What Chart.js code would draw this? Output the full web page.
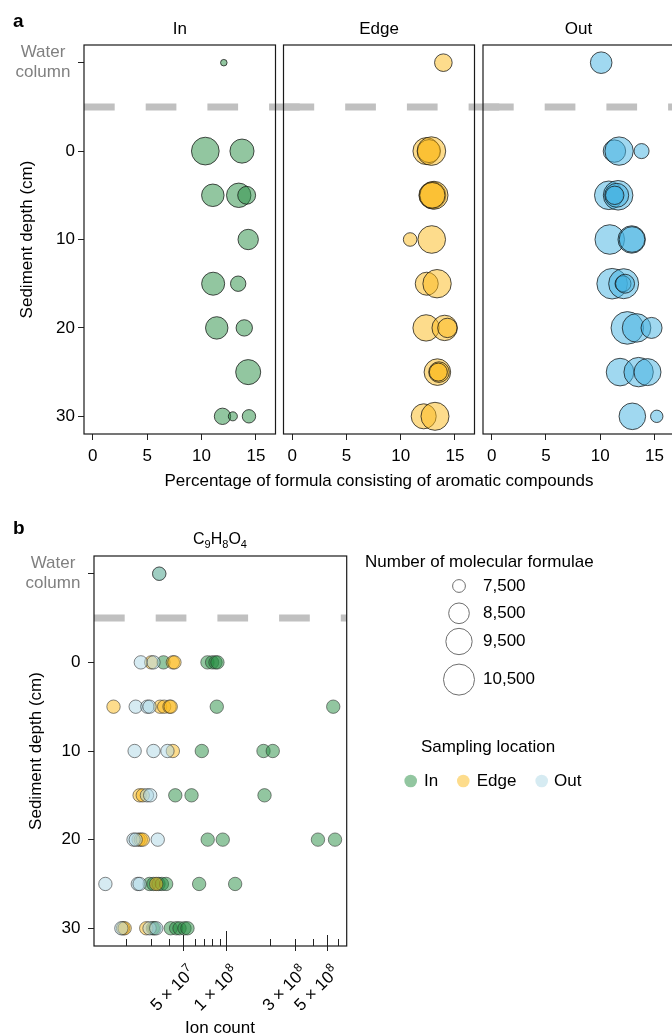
<!DOCTYPE html>
<html>
<head>
<meta charset="utf-8">
<script src="https://cdn.jsdelivr.net/npm/chart.js@4.4.1/dist/chart.umd.min.js"></script>
<style>
  html, body { margin: 0; padding: 0; background: #fff; }
  #fig { position: relative; width: 672px; height: 1034px; overflow: hidden; background: #fff; }
  #fig canvas { position: absolute; left: 0; top: 0; }
</style>
</head>
<body>
<div id="fig">
  <canvas id="cIn" width="720" height="1034"></canvas>
  <canvas id="cEdge" width="720" height="1034"></canvas>
  <canvas id="cOut" width="720" height="1034"></canvas>
  <canvas id="cIon" width="720" height="1034"></canvas>
</div>
<script>
// ---------- data ----------
const WATER = -10;     // row on the depth axis used for the water-column samples
const DIVIDER = -5;    // dashed separator between water column and sediment
const depthTicks = [-10, 0, 10, 20, 30];
const pctTicks = [0, 5, 10, 15];

// (a) aromatic share (%) and number of molecular formulae per sample
const inDepth     = [WATER, 0, 0, 5, 5, 5, 10, 15, 15, 20, 20, 25, 30, 30, 30];
const inAromatic  = [12.05, 10.35, 13.72, 11.04, 13.42, 14.15, 14.29, 11.07, 13.37, 11.40, 13.93, 14.29, 11.93, 12.88, 14.36];
const inFormulae  = [7020, 9780, 9080, 8800, 9140, 8100, 8460, 8890, 7780, 8790, 7900, 9250, 7900, 7180, 7560];

const edgeDepth    = [WATER, 0, 0, 0, 5, 5, 5, 10, 10, 15, 15, 20, 20, 20, 25, 25, 25, 30, 30];
const edgeAromatic = [13.93, 12.37, 12.61, 12.83, 12.92, 13.07, 12.90, 10.87, 12.86, 12.40, 13.35, 12.34, 14.05, 14.30, 13.38, 13.53, 13.47, 12.12, 13.16];
const edgeFormulae = [8060, 9630, 8890, 9960, 9630, 9840, 9360, 7580, 9760, 8890, 9920, 9510, 9320, 8310, 9550, 8490, 8110, 9250, 9840];

const outDepth     = [WATER, 0, 0, 0, 5, 5, 5, 5, 10, 10, 10, 15, 15, 15, 15, 20, 20, 20, 25, 25, 25, 30, 30];
const outAromatic  = [10.09, 11.31, 11.74, 13.81, 10.79, 11.65, 11.52, 11.34, 10.88, 12.90, 12.93, 11.10, 12.16, 12.10, 12.29, 12.50, 13.35, 14.73, 11.83, 13.54, 14.36, 12.96, 15.21];
const outFormulae  = [8650, 8790, 9920, 7740, 9960, 10180, 9060, 8170, 10180, 9720, 9360, 10400, 10270, 7850, 8250, 10870, 9960, 8560, 9760, 10140, 9630, 9550, 7460];

// (b) ion counts of C9H8O4
const ionInDepth = [WATER, 0, 0, 0, 0, 0, 5, 5, 10, 10, 10, 15, 15, 15, 20, 20, 20, 20, 25, 25, 25, 25, 25, 25, 25, 30, 30, 30, 30, 30, 30, 30];
const ionIn      = [3.41e7, 3.65e7, 7.38e7, 7.95e7, 8.39e7, 8.66e7, 8.57e7, 5.53e8, 6.74e7, 1.81e8, 2.10e8, 4.41e7, 5.72e7, 1.84e8,
                    7.41e7, 9.43e7, 4.33e8, 5.69e8, 2.92e7, 3.11e7, 3.37e7, 3.56e7, 3.81e7, 6.46e7, 1.15e8,
                    3.08e7, 3.16e7, 4.10e7, 4.47e7, 4.72e7, 5.11e7, 5.36e7];
const ionEdgeDepth = [0, 0, 0, 5, 5, 5, 5, 5, 10, 15, 15, 20, 20, 20, 25, 30, 30, 30];
const ionEdge      = [3.00e7, 4.24e7, 4.35e7, 1.64e7, 3.46e7, 3.69e7, 4.02e7, 4.10e7, 4.24e7, 2.49e7, 2.62e7,
                      2.45e7, 2.54e7, 2.62e7, 3.25e7, 1.91e7, 1.96e7, 2.77e7];
const ionOutDepth = [WATER, 0, 0, 5, 5, 5, 10, 10, 10, 15, 15, 20, 20, 20, 25, 25, 25, 30, 30, 30];
const ionOut      = [3.41e7, 2.54e7, 3.11e7, 2.34e7, 2.82e7, 2.92e7, 2.30e7, 3.11e7, 3.89e7, 2.80e7, 2.95e7,
                     2.26e7, 2.34e7, 3.33e7, 1.44e7, 2.42e7, 2.49e7, 1.86e7, 2.92e7, 3.25e7];

const ionTicks = [2e7, 3e7, 4e7, 5e7, 6e7, 7e7, 8e7, 9e7, 1e8, 2e8, 3e8, 4e8, 5e8, 6e8];
const ionLabelTicks = [5e7, 1e8, 3e8, 5e8];
const ionLabelMantissa = ['5', '1', '3', '5'];
const ionLabelExponent = ['7', '8', '8', '8'];

const legendFormulae = [7500, 8500, 9500, 10500];
const legendFormulaeLabels = ['7,500', '8,500', '9,500', '10,500'];
const locations = ['In', 'Edge', 'Out'];

// ---------- styling ----------
const FONT = "'Liberation Sans', Arial, Helvetica, sans-serif";
const CW = 720, CH = 1034;
const colIn = 'rgba(37,141,65,0.5)';
const colEdge = 'rgba(251,185,25,0.5)';
const colOut = 'rgba(65,177,225,0.5)';
const colOutIon = 'rgba(173,216,230,0.5)';
const edgeLine = 'rgba(20,20,20,0.75)';

Chart.defaults.font.family = FONT;
Chart.defaults.font.size = 17;
Chart.defaults.color = '#000';

// circle radius (px) for a number of molecular formulae: area grows linearly with the count
function sizeFor(n) {
  return Math.sqrt(Math.max(9, 152 + 0.0696 * (n - 9000))) - 0.5;
}

function txt(ctx, s, x, y, o = {}) {
  ctx.save();
  ctx.font = `${o.weight || 'normal'} ${o.size || 17}px ${FONT}`;
  ctx.fillStyle = o.color || '#000';
  ctx.textAlign = o.align || 'center';
  ctx.textBaseline = o.baseline || 'middle';
  if (o.rotate) {
    ctx.translate(x, y); ctx.rotate(o.rotate); ctx.fillText(s, 0, 0);
  } else {
    ctx.fillText(s, x, y);
  }
  ctx.restore();
}

function depthAxis(show, width, pad) {
  return {
    type: 'linear', reverse: true, min: -12, max: 32, display: show,
    afterBuildTicks(s) { s.ticks = depthTicks.map(v => ({ value: v })); },
    afterFit(s) { if (show) s.width = width; },
    ticks: { padding: pad, autoSkip: false, color: '#000', font: { size: 17 },
             callback: v => (v === WATER ? '' : String(v)) },
    grid: { drawOnChartArea: false, tickLength: 6, color: '#222', lineWidth: 1 },
    border: { display: false }
  };
}

function waterLabel(chart) {
  const { ctx, chartArea: a, scales } = chart;
  const yw = scales.y.getPixelForValue(WATER);
  txt(ctx, 'Water', a.left - 41, yw - 10.4, { color: '#808080' });
  txt(ctx, 'column', a.left - 41, yw + 10, { color: '#808080' });
}

// frame, dashed separator and any extra annotations
function decor(cfg) {
  return {
    id: 'decor',
    beforeDatasetsDraw(chart) {
      const { ctx, chartArea: a, scales } = chart;
      const yy = scales.y.getPixelForValue(DIVIDER);
      ctx.save();
      ctx.strokeStyle = '#c0c0c0';
      ctx.lineWidth = 7;
      ctx.setLineDash([30.7, 31]);
      ctx.beginPath();
      ctx.moveTo(a.left, yy);
      ctx.lineTo(a.right + cfg.dashExtend, yy);
      ctx.stroke();
      ctx.restore();
    },
    afterDatasetsDraw(chart) {
      const { ctx, chartArea: a } = chart;
      ctx.save();
      ctx.strokeStyle = '#1a1a1a';
      ctx.lineWidth = 1.2;
      ctx.strokeRect(a.left, a.top, a.right - a.left, a.bottom - a.top);
      ctx.restore();
    },
    afterDraw(chart) { if (cfg.extra) cfg.extra(chart); }
  };
}

function baseOptions(padding) {
  return {
    responsive: false, animation: false, devicePixelRatio: 1, events: [],
    layout: { padding },
    plugins: { legend: { display: false }, tooltip: { enabled: false } }
  };
}

// ---------- panel a ----------
const A_TOP = 45, A_BOTTOM = 434, A_XAXIS = 40;
const panelsA = [
  { id: 'cIn', name: 'In', depth: inDepth, pct: inAromatic, n: inFormulae, color: colIn, left: 84, right: 275.5, showY: true },
  { id: 'cEdge', name: 'Edge', depth: edgeDepth, pct: edgeAromatic, n: edgeFormulae, color: colEdge, left: 283.5, right: 474.5, showY: false },
  { id: 'cOut', name: 'Out', depth: outDepth, pct: outAromatic, n: outFormulae, color: colOut, left: 483, right: 674, showY: false }
];

panelsA.forEach(p => {
  const yWidth = 84;
  const opts = baseOptions({
    left: p.showY ? p.left - yWidth : p.left,
    right: CW - p.right,
    top: A_TOP,
    bottom: CH - A_BOTTOM - A_XAXIS
  });
  opts.scales = {
    x: {
      type: 'linear', min: -0.8, max: 16.8,
      afterBuildTicks(s) { s.ticks = pctTicks.map(v => ({ value: v })); },
      afterFit(s) { s.height = A_XAXIS; },
      ticks: { padding: 6, autoSkip: false, maxRotation: 0, minRotation: 0, font: { size: 17 }, color: '#000' },
      grid: { drawOnChartArea: false, tickLength: 6, color: '#222', lineWidth: 1 },
      border: { display: false }
    },
    y: depthAxis(p.showY, yWidth, 3)
  };
  new Chart(document.getElementById(p.id), {
    type: 'bubble',
    data: {
      datasets: [{
        label: p.name,
        data: p.depth.map((d, i) => ({ x: p.pct[i], y: d, r: sizeFor(p.n[i]) })),
        backgroundColor: p.color,
        borderColor: edgeLine,
        borderWidth: 1
      }]
    },
    options: opts,
    plugins: [decor({
      dashExtend: 30,
      extra(chart) {
        const { ctx, chartArea: a } = chart;
        txt(ctx, p.name, (a.left + a.right) / 2, 34, { baseline: 'alphabetic' });
        if (p.showY) {
          txt(ctx, 'a', 13, 27, { weight: 'bold', size: 19, align: 'left', baseline: 'alphabetic' });
          txt(ctx, 'Sediment depth (cm)', 27, (a.top + a.bottom) / 2, { rotate: -Math.PI / 2 });
          txt(ctx, 'Percentage of formula consisting of aromatic compounds', (84 + 674) / 2, 481);
          waterLabel(chart);
        }
      }
    })]
  });
});

// ---------- panel b ----------
const B_LEFT = 94, B_RIGHT = 346.7, B_TOP = 556, B_BOTTOM = 946;

function ionPoints(depths, counts) {
  return depths.map((d, i) => ({ x: counts[i], y: d }));
}

function ionExtras(chart) {
  const { ctx, chartArea: a, scales } = chart;
  const xs = scales.x;

  // log axis tick marks (inward), labelled ticks also reach outward
  ctx.save();
  ctx.strokeStyle = '#222';
  ctx.lineWidth = 1;
  ionTicks.forEach(v => {
    const x = Math.round(xs.getPixelForValue(v)) + 0.5;
    const lead = Math.log10(v) % 1;
    let len = 7;
    if (Math.abs(lead) < 1e-6) len = 15;
    else if (Math.abs(lead - Math.log10(5)) < 1e-6) len = 11;
    const out = ionLabelTicks.includes(v) ? 5 : 0;
    ctx.beginPath();
    ctx.moveTo(x, a.bottom - len);
    ctx.lineTo(x, a.bottom + out);
    ctx.stroke();
  });
  ctx.restore();

  // rotated tick labels with superscript exponents
  ionLabelTicks.forEach((v, i) => {
    const x = xs.getPixelForValue(v);
    ctx.save();
    ctx.translate(x + 13, a.bottom + 27);
    ctx.rotate(-Math.PI / 4);
    ctx.fillStyle = '#000';
    ctx.textAlign = 'right';
    ctx.textBaseline = 'alphabetic';
    ctx.font = `12px ${FONT}`;
    const ew = ctx.measureText(ionLabelExponent[i]).width;
    ctx.fillText(ionLabelExponent[i], 0, -7);
    ctx.font = `17px ${FONT}`;
    ctx.fillText(ionLabelMantissa[i] + ' \u00d7 10', -ew - 0.5, 0);
    ctx.restore();
  });

  txt(ctx, 'Ion count', 220, 1033, { baseline: 'alphabetic' });
  txt(ctx, 'b', 13, 534, { weight: 'bold', size: 19, align: 'left', baseline: 'alphabetic' });
  txt(ctx, 'Sediment depth (cm)', 36, (a.top + a.bottom) / 2, { rotate: -Math.PI / 2 });
  waterLabel(chart);

  // C9H8O4 with subscripts
  const parts = [['C', 0], ['9', 1], ['H', 0], ['8', 1], ['O', 0], ['4', 1]];
  ctx.save();
  let total = 0;
  parts.forEach(([s, sub]) => { ctx.font = `${sub ? 11 : 16}px ${FONT}`; total += ctx.measureText(s).width; });
  let cx = 220 - total / 2;
  ctx.fillStyle = '#000';
  ctx.textAlign = 'left';
  ctx.textBaseline = 'alphabetic';
  parts.forEach(([s, sub]) => {
    ctx.font = `${sub ? 11 : 16}px ${FONT}`;
    ctx.fillText(s, cx, sub ? 548 : 544);
    cx += ctx.measureText(s).width;
  });
  ctx.restore();

  // size legend
  txt(ctx, 'Number of molecular formulae', 365, 562, { align: 'left' });
  const legY = [586, 613.3, 641.5, 679.6];
  legendFormulae.forEach((n, i) => {
    ctx.save();
    ctx.strokeStyle = '#6e6e6e';
    ctx.lineWidth = 1;
    ctx.beginPath();
    ctx.arc(459, legY[i], sizeFor(n), 0, Math.PI * 2);
    ctx.stroke();
    ctx.restore();
    txt(ctx, legendFormulaeLabels[i], 483, legY[i], { align: 'left' });
  });

  // colour legend
  txt(ctx, 'Sampling location', 488, 747);
  const dotX = [410.7, 463.3, 541.7];
  const labX = [424, 476.7, 554];
  const dotCol = [colIn, colEdge, colOutIon];
  locations.forEach((name, i) => {
    ctx.save();
    ctx.fillStyle = dotCol[i];
    ctx.beginPath();
    ctx.arc(dotX[i], 781, 6.3, 0, Math.PI * 2);
    ctx.fill();
    ctx.restore();
    txt(ctx, name, labX[i], 781, { align: 'left' });
  });
}

const ionOpts = baseOptions({ left: 0, right: CW - B_RIGHT, top: B_TOP, bottom: CH - B_BOTTOM });
ionOpts.scales = {
  x: { type: 'logarithmic', min: 1.2e7, max: 6.86e8, display: false },
  y: depthAxis(true, B_LEFT, 7.5)
};

const ionStyle = { pointRadius: 6.7, borderWidth: 1, borderColor: 'rgba(40,40,40,0.55)' };
new Chart(document.getElementById('cIon'), {
  type: 'scatter',
  data: {
    datasets: [
      Object.assign({ label: 'In', data: ionPoints(ionInDepth, ionIn), backgroundColor: colIn, order: 3 }, ionStyle),
      Object.assign({ label: 'Edge', data: ionPoints(ionEdgeDepth, ionEdge), backgroundColor: colEdge, order: 2 }, ionStyle),
      Object.assign({ label: 'Out', data: ionPoints(ionOutDepth, ionOut), backgroundColor: colOutIon, order: 1 }, ionStyle)
    ]
  },
  options: ionOpts,
  plugins: [decor({ dashExtend: 0, extra: ionExtras })]
});
</script>
</body>
</html>
